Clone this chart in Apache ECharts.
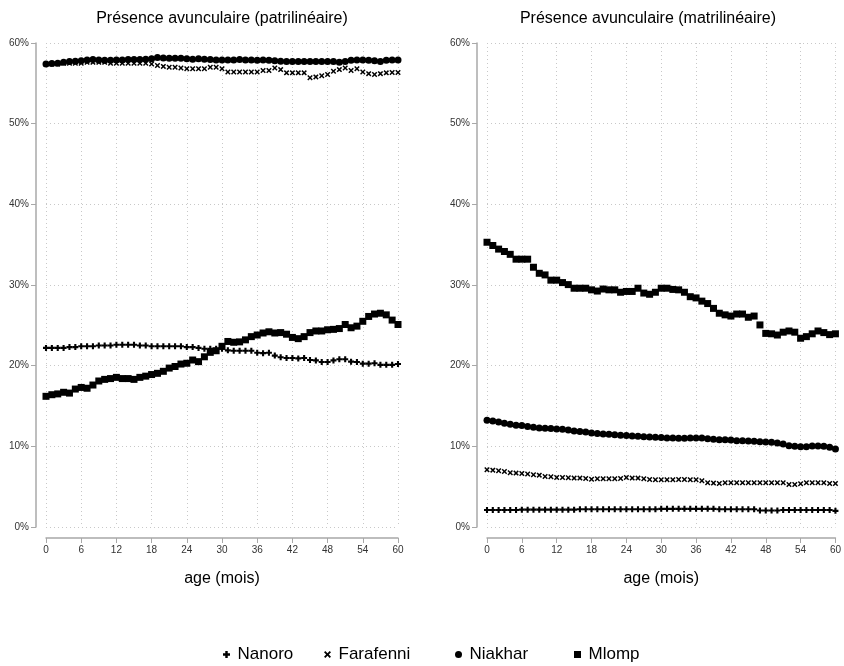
<!DOCTYPE html>
<html>
<head>
<meta charset="utf-8">
<script src="https://cdn.jsdelivr.net/npm/echarts@6/dist/echarts.min.js"></script>
<style>
  html, body { margin: 0; padding: 0; background: #fff; }
  #chart { width: 844px; height: 666px; }
</style>
</head>
<body>
<div id="chart"></div>
<script>
// Age in months (x values shared by every series)
const months = [0,1,2,3,4,5,6,7,8,9,10,11,12,13,14,15,16,17,18,19,20,
  21,22,23,24,25,26,27,28,29,30,31,32,33,34,35,36,37,38,39,40,
  41,42,43,44,45,46,47,48,49,50,51,52,53,54,55,56,57,58,59,60];

const siteNames = ['Nanoro', 'Farafenni', 'Niakhar', 'Mlomp'];
const panelTitles = ['Présence avunculaire (patrilinéaire)', 'Présence avunculaire (matrilinéaire)'];
const xTickStep = 6;
const yTickStep = 10;

// Patrilineal uncle presence (%)
const patriNanoro = [22.2,22.2,22.2,22.2,22.3,22.3,22.4,22.4,22.4,22.5,
  22.5,22.5,22.6,22.6,22.6,22.6,22.5,22.5,22.4,22.4,
  22.4,22.4,22.4,22.4,22.3,22.3,22.2,22.1,22.1,22.1,
  22.1,21.9,21.85,21.85,21.85,21.85,21.6,21.55,21.6,21.25,
  21.05,20.95,20.95,20.9,20.95,20.7,20.65,20.45,20.45,20.65,
  20.8,20.8,20.5,20.45,20.25,20.25,20.3,20.1,20.1,20.1,20.2];
const patriFarafenni = [57.4,57.4,57.4,57.5,57.5,57.5,57.5,57.6,57.6,57.6,
  57.6,57.5,57.5,57.5,57.5,57.5,57.5,57.5,57.4,57.2,
  57.1,57.0,57.0,56.9,56.8,56.8,56.8,56.8,57.0,57.0,
  56.8,56.4,56.4,56.4,56.4,56.4,56.4,56.6,56.6,56.9,
  56.7,56.3,56.3,56.3,56.3,55.7,55.8,55.95,56.1,56.5,
  56.7,56.9,56.6,56.8,56.4,56.2,56.1,56.2,56.3,56.35,56.35];
const patriNiakhar = [57.4,57.45,57.5,57.6,57.7,57.75,57.8,57.9,57.95,57.9,
  57.85,57.85,57.9,57.9,57.95,57.95,57.95,58.0,58.05,58.2,
  58.15,58.1,58.1,58.1,58.05,58.0,58.05,58.0,57.95,57.9,
  57.9,57.9,57.9,57.95,57.9,57.9,57.85,57.9,57.85,57.8,
  57.75,57.7,57.7,57.7,57.7,57.7,57.7,57.7,57.7,57.7,
  57.6,57.7,57.85,57.9,57.9,57.85,57.8,57.7,57.85,57.9,57.9];
const patriMlomp = [16.2,16.4,16.5,16.7,16.6,17.1,17.3,17.2,17.6,18.1,
  18.3,18.4,18.55,18.4,18.4,18.3,18.55,18.7,18.9,19.05,
  19.3,19.7,19.9,20.2,20.3,20.7,20.5,21.1,21.65,21.85,
  22.4,23.0,22.9,22.95,23.2,23.6,23.8,24.05,24.2,24.05,
  24.1,23.9,23.5,23.35,23.6,24.1,24.3,24.3,24.45,24.5,
  24.6,25.1,24.7,24.9,25.5,26.1,26.4,26.5,26.3,25.65,25.1];

// Matrilineal uncle presence (%)
const matriNanoro = [2.1,2.1,2.1,2.1,2.1,2.1,2.15,2.15,2.15,2.15,
  2.15,2.15,2.15,2.15,2.15,2.15,2.2,2.2,2.2,2.2,
  2.2,2.2,2.2,2.2,2.2,2.2,2.2,2.2,2.2,2.2,
  2.25,2.25,2.25,2.25,2.25,2.25,2.25,2.25,2.25,2.25,
  2.2,2.2,2.2,2.2,2.2,2.2,2.2,2.05,2.05,2.05,
  2.05,2.1,2.1,2.1,2.1,2.1,2.1,2.1,2.1,2.1,2.0];
const matriFarafenni = [7.1,7.05,6.97,6.89,6.72,6.68,6.64,6.56,6.47,6.43,
  6.27,6.22,6.14,6.14,6.1,6.06,6.06,6.02,5.93,5.98,
  5.98,5.98,5.98,6.02,6.14,6.06,6.06,5.98,5.89,5.85,
  5.85,5.85,5.85,5.89,5.89,5.85,5.85,5.73,5.48,5.44,
  5.39,5.48,5.48,5.48,5.48,5.48,5.48,5.48,5.48,5.48,
  5.48,5.48,5.27,5.27,5.35,5.48,5.48,5.48,5.48,5.39,5.39];
const matriNiakhar = [13.24,13.15,13.03,12.86,12.74,12.61,12.57,12.45,12.37,12.28,
  12.24,12.2,12.16,12.12,12.03,11.91,11.83,11.78,11.66,11.58,
  11.54,11.49,11.45,11.37,11.33,11.29,11.24,11.2,11.16,11.12,
  11.08,11.04,11.04,11.0,11.0,11.04,11.04,11.04,10.95,10.87,
  10.83,10.83,10.79,10.7,10.7,10.66,10.62,10.58,10.54,10.5,
  10.41,10.29,10.08,10.0,9.96,9.96,10.04,10.04,10.0,9.88,9.67];
const matriMlomp = [35.3,34.9,34.45,34.15,33.8,33.2,33.2,33.2,32.2,31.45,
  31.25,30.6,30.6,30.3,30.05,29.6,29.6,29.6,29.4,29.25,
  29.5,29.4,29.4,29.1,29.2,29.2,29.6,29.0,28.85,29.1,
  29.6,29.6,29.45,29.4,29.1,28.55,28.4,28.0,27.7,27.1,
  26.5,26.3,26.15,26.4,26.4,26.0,26.15,25.05,24.0,23.95,
  23.8,24.15,24.3,24.15,23.4,23.6,23.95,24.3,24.1,23.85,23.95];

// Marker shapes
const PLUS = 'path://M2.6,0H5.4V2.6H8V5.4H5.4V8H2.6V5.4H0V2.6H2.6Z';
const CROSS = 'path://M0,1.5L1.5,0L4,2.5L6.5,0L8,1.5L5.5,4L8,6.5L6.5,8L4,5.5L1.5,8L0,6.5L2.5,4Z';
const SQUARE = 'path://M0,0H8V8H0Z';
const markerStyle = {
  Nanoro:    { symbol: PLUS,     size: 6 },
  Farafenni: { symbol: CROSS,    size: 5.5 },
  Niakhar:   { symbol: 'circle', size: 7 },
  Mlomp:     { symbol: SQUARE,   size: 7 }
};

const panels = [
  { Nanoro: patriNanoro, Farafenni: patriFarafenni, Niakhar: patriNiakhar, Mlomp: patriMlomp },
  { Nanoro: matriNanoro, Farafenni: matriFarafenni, Niakhar: matriNiakhar, Mlomp: matriMlomp }
];

const FONT = 'Liberation Sans, Arial, Helvetica, sans-serif';
const gridLine = { show: true, lineStyle: { color: '#c8c8c8', width: 1, type: [1, 3] } };
const axisGray = '#a8a8a8';

const grids = [
  { left: 46, top: 43, width: 352, height: 484 },
  { left: 487, top: 43, width: 351, height: 484 }
];

const xAxes = grids.map((g, i) => ({
  type: 'value', gridIndex: i, min: 0, max: 60, interval: xTickStep,
  offset: 11,
  axisLine: { show: true, onZero: false, lineStyle: { color: axisGray, width: 1.5 } },
  axisTick: { show: true, length: 5, lineStyle: { color: axisGray } },
  axisLabel: { fontSize: 10, color: '#333', margin: 7, fontFamily: FONT },
  splitLine: gridLine,
  name: 'age (mois)', nameLocation: 'middle', nameGap: 33,
  nameTextStyle: { fontSize: 16, color: '#000', fontFamily: FONT }
}));

const yAxes = grids.map((g, i) => ({
  type: 'value', gridIndex: i, min: 0, max: 60, interval: yTickStep,
  offset: 10,
  axisLine: { show: true, onZero: false, lineStyle: { color: axisGray, width: 1.5 } },
  axisTick: { show: true, length: 5, lineStyle: { color: axisGray } },
  axisLabel: { fontSize: 10, color: '#333', margin: 7, formatter: '{value}%', fontFamily: FONT },
  splitLine: gridLine
}));

const series = [];
panels.forEach((panel, p) => {
  siteNames.forEach(name => {
    const m = markerStyle[name];
    series.push({
      name: name,
      type: 'scatter',
      xAxisIndex: p, yAxisIndex: p,
      symbol: m.symbol, symbolSize: m.size,
      itemStyle: { color: '#000', opacity: 1 },
      emphasis: { disabled: true },
      data: months.map((mo, k) => [mo, panel[name][k]])
    });
  });
});

// One legend block per site so each key sits at its own spot along the bottom row
const legendLeft = [218, 319, 450, 569];
const legends = siteNames.map((n, i) => ({
  left: legendLeft[i], top: 641,
  itemWidth: 12, itemHeight: 7, selectedMode: false,
  textStyle: { fontSize: 17, color: '#000', fontFamily: FONT },
  data: [{ name: n, icon: markerStyle[n].symbol, itemStyle: { color: '#000', opacity: 1 } }]
}));

const chart = echarts.init(document.getElementById('chart'), null, { renderer: 'canvas' });
chart.setOption({
  animation: false,
  backgroundColor: '#fff',
  textStyle: { fontFamily: FONT },
  title: [
    { text: panelTitles[0], left: 217, top: 6, textAlign: 'center',
      textStyle: { fontSize: 16, fontWeight: 'normal', color: '#000', fontFamily: FONT } },
    { text: panelTitles[1], left: 643, top: 6, textAlign: 'center',
      textStyle: { fontSize: 16, fontWeight: 'normal', color: '#000', fontFamily: FONT } }
  ],
  legend: legends,
  grid: grids,
  xAxis: xAxes,
  yAxis: yAxes,
  series: series
});
</script>
</body>
</html>
